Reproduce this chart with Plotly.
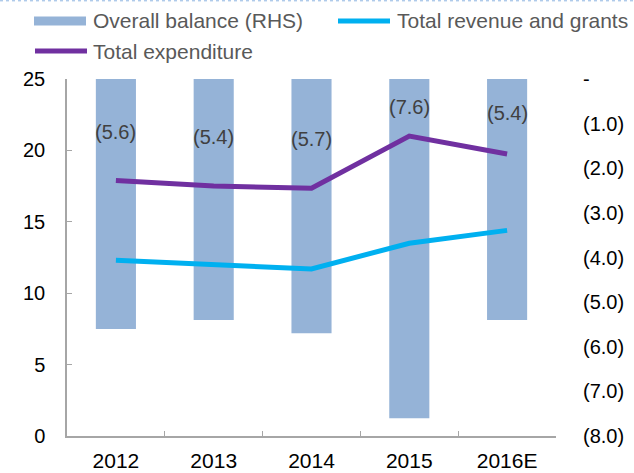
import plotly.graph_objects as go

# ---- data ----
years = ["2012", "2013", "2014", "2015", "2016E"]
overall_balance = [-5.6, -5.4, -5.7, -7.6, -5.4]          # RHS, % of GDP
total_revenue = [12.3, 12.0, 11.7, 13.5, 14.4]
total_expenditure = [17.9, 17.5, 17.35, 21.0, 19.75]
balance_labels = ["(5.6)", "(5.4)", "(5.7)", "(7.6)", "(5.4)"]
label_pos = [-1.19, -1.30, -1.34, -0.63, -0.76]           # label placement on RHS axis
left_ticks = [0, 5, 10, 15, 20, 25]
right_tickvals = [0, -1, -2, -3, -4, -5, -6, -7, -8]
right_ticktext = ["-", "(1.0)", "(2.0)", "(3.0)", "(4.0)", "(5.0)", "(6.0)", "(7.0)", "(8.0)"]

W, H = 634, 473
L, R, T, B = 67, 78, 79, 37
PW, PH = W - L - R, H - T - B

def px(x):
    return (x - L) / PW

def py(y):
    return (H - B - y) / PH

BAR_C = "#95B3D7"
REV_C = "#00B0F0"
EXP_C = "#7030A0"
FONT = "Arial, Liberation Sans, sans-serif"

fig = go.Figure()
# bars on the right-hand axis (yaxis, drawn first / underneath)
fig.add_trace(go.Bar(x=years, y=overall_balance, yaxis="y", marker_color=BAR_C,
                     marker_line_width=0, width=0.41, name="Overall balance (RHS)",
                     showlegend=False))
# lines on the left-hand axis (yaxis2, overlaying, drawn on top)
fig.add_trace(go.Scatter(x=years, y=total_revenue, mode="lines", yaxis="y2",
                         line=dict(color=REV_C, width=5), name="Total revenue and grants",
                         showlegend=False))
fig.add_trace(go.Scatter(x=years, y=total_expenditure, mode="lines", yaxis="y2",
                         line=dict(color=EXP_C, width=5), name="Total expenditure",
                         showlegend=False))

annotations = []
for i, (txt, pos) in enumerate(zip(balance_labels, label_pos)):
    annotations.append(dict(x=i, y=pos, xref="x", yref="y", text=txt, showarrow=False,
                            font=dict(family=FONT, size=20, color="#404040")))

# manual legend
shapes = [
    dict(type="rect", xref="paper", yref="paper", x0=px(34), x1=px(86), y0=py(25.5), y1=py(16.5),
         fillcolor=BAR_C, line_width=0),
    dict(type="line", xref="paper", yref="paper", x0=px(338), x1=px(390), y0=py(21), y1=py(21),
         line=dict(color=REV_C, width=5)),
    dict(type="line", xref="paper", yref="paper", x0=px(35), x1=px(87), y0=py(51), y1=py(51),
         line=dict(color=EXP_C, width=5)),
    dict(type="line", xref="paper", yref="paper", x0=px(0), x1=px(W), y0=py(0.8), y1=py(0.8),
         line=dict(color="#8DB4E2", width=1, dash="dot")),
]
leg_font = dict(family=FONT, size=21, color="#595959")
annotations += [
    dict(x=px(91), y=py(21), xref="paper", yref="paper", text="Overall balance (RHS)",
         showarrow=False, xanchor="left", yanchor="middle", font=leg_font),
    dict(x=px(395), y=py(21), xref="paper", yref="paper", text="Total revenue and grants",
         showarrow=False, xanchor="left", yanchor="middle", font=leg_font),
    dict(x=px(91), y=py(51), xref="paper", yref="paper", text="Total expenditure",
         showarrow=False, xanchor="left", yanchor="middle", font=leg_font),
]

axis_c = "#A6A6A6"
fig.update_layout(
    width=W, height=H,
    margin=dict(l=L, r=R, t=T, b=B, pad=0),
    paper_bgcolor="white", plot_bgcolor="white",
    font=dict(family=FONT, size=20, color="black"),
    showlegend=False,
    xaxis=dict(type="category", categoryorder="array", categoryarray=years,
               range=[-0.5, len(years) - 0.5],
               showline=True, linecolor=axis_c, linewidth=1.5,
               ticks="inside", ticklen=5, tickcolor=axis_c, tickson="boundaries",
               showgrid=False, tickfont=dict(size=21), automargin=False, tickangle=0,
               ticklabelstandoff=5),
    yaxis=dict(range=[-8, 0], side="right", tickvals=right_tickvals,
               ticktext=right_ticktext, showline=False, showgrid=False, zeroline=False,
               ticks="", tickfont=dict(size=20), ticklabelstandoff=26, automargin=False),
    yaxis2=dict(range=[0, 25], overlaying="y", side="left", tickvals=left_ticks,
                showline=True, linecolor=axis_c, linewidth=1.5, ticks="inside", ticklen=5,
                tickcolor=axis_c, showgrid=False, zeroline=False, tickfont=dict(size=20),
                ticklabelstandoff=16, automargin=False),
    shapes=shapes,
    annotations=annotations,
)

fig.write_html("out.html", config={"displayModeBar": False},
               post_script="document.body.style.margin='0';document.body.style.overflow='hidden';")
